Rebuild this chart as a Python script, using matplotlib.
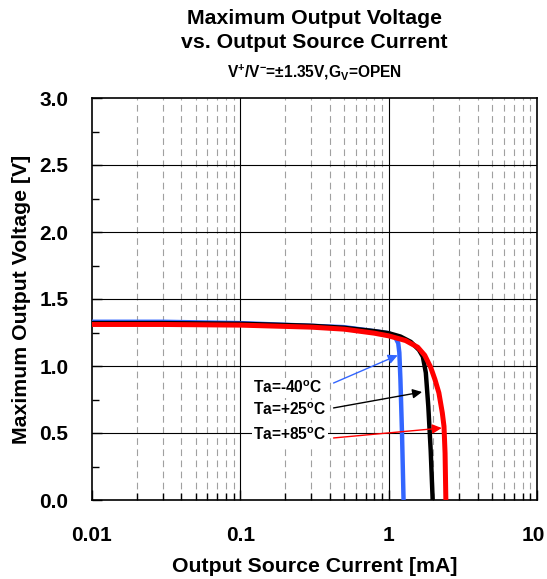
import matplotlib
matplotlib.use("Agg")
import matplotlib.pyplot as plt
import numpy as np
from matplotlib.ticker import FixedLocator, NullFormatter
from matplotlib.transforms import ScaledTranslation

plt.rcParams['font.family'] = ['Liberation Sans', 'DejaVu Sans']
plt.rcParams['mathtext.fontset'] = 'custom'
plt.rcParams['mathtext.rm'] = 'Liberation Sans:bold'
plt.rcParams['mathtext.bf'] = 'Liberation Sans:bold'
plt.rcParams['mathtext.it'] = 'Liberation Sans:bold'

# Data
i_m40 = [0.01, 0.03, 0.1, 0.3, 0.5, 0.8, 1.0, 1.1, 1.16, 1.18, 1.2, 1.23, 1.26]
v_m40 = [1.33, 1.33, 1.32, 1.30, 1.29, 1.26, 1.245, 1.22, 1.17, 1.10, 0.90, 0.50, 0.0]

i_25 = [0.01, 0.03, 0.1, 0.3, 0.5, 0.8, 1.0, 1.2, 1.41, 1.6, 1.7, 1.78, 1.85, 1.92, 1.98]
v_25 = [1.32, 1.32, 1.315, 1.30, 1.285, 1.26, 1.245, 1.22, 1.18, 1.12, 1.07, 0.95, 0.70, 0.37, 0.0]

i_85 = [0.01, 0.03, 0.1, 0.3, 0.5, 0.8, 1.0, 1.3, 1.57, 1.75, 1.92, 2.05, 2.18, 2.3, 2.36, 2.40, 2.43]
v_85 = [1.31, 1.31, 1.305, 1.29, 1.275, 1.245, 1.225, 1.19, 1.14, 1.08, 0.99, 0.90, 0.80, 0.65, 0.55, 0.35, 0.0]

labels = ['Ta=-40$^{o}$C', 'Ta=+25$^{o}$C', 'Ta=+85$^{o}$C']
colors = ['#3366ff', '#000000', '#ff0000']

x_ticks = [0.01, 0.1, 1, 10]
x_ticklabels = ['0.01', '0.1', '1', '10']
y_ticks = [0.0, 0.5, 1.0, 1.5, 2.0, 2.5, 3.0]

fig = plt.figure(figsize=(5.47, 5.79), dpi=100)
ax = fig.add_axes([92/547, 1-500/579, (537-92)/547, (500-98)/579])

ax.set_xscale('log')
ax.set_xlim(0.01, 10)
ax.set_ylim(0, 3.0)

# grid
minor_x = [m * 10.0**e for e in (-2, -1, 0) for m in range(2, 10)]
for xv in minor_x:
    ax.axvline(xv, color='#a0a0a0', lw=0.8, ls=(0, (6, 4)), zorder=1)
for xv in x_ticks[1:-1]:
    ax.axvline(xv, color='black', lw=0.8, zorder=1)
for yv in y_ticks[1:-1]:
    ax.axhline(yv, color='black', lw=0.8, zorder=1)

ax.plot(i_m40, v_m40, color=colors[0], lw=3.2, zorder=3, solid_capstyle='butt')
ax.plot(i_25, v_25, color=colors[1], lw=3.2, zorder=4, solid_capstyle='butt')
ax.plot(i_85, v_85, color=colors[2], lw=3.6, zorder=5, solid_capstyle='butt')

# annotations
text_pos = [(0.122, 0.836), (0.122, 0.672), (0.122, 0.485)]
arrow_from = [(0.425, 0.873), (0.425, 0.687), (0.425, 0.463)]
arrow_to = [(1.15, 1.08), (1.68, 0.806), (2.28, 0.537)]
for lab, c, tp, af, at in zip(labels, colors, text_pos, arrow_from, arrow_to):
    ax.text(tp[0], tp[1], lab, fontsize=11.2, fontweight='bold', va='center', ha='left',
            bbox=dict(facecolor='white', edgecolor='none', pad=1), zorder=6)
    ax.annotate('', xy=at, xytext=af,
                arrowprops=dict(arrowstyle='-|>', color=c, lw=1.0, mutation_scale=14,
                                shrinkA=0, shrinkB=0), zorder=7)

ax.set_xticks(x_ticks)
ax.set_xticklabels(x_ticklabels)
ax.xaxis.set_minor_locator(FixedLocator(minor_x))
ax.xaxis.set_minor_formatter(NullFormatter())
ax.set_yticks(y_ticks)
ax.set_yticklabels(['%.1f' % v for v in y_ticks])
ax.yaxis.set_minor_locator(FixedLocator(np.arange(0.25, 3.0, 0.5)))
ax.tick_params(axis='both', which='both', direction='in', labelsize=15)
ax.tick_params(axis='x', pad=19)
ax.tick_params(axis='y', pad=17)
ax.tick_params(which='major', length=7, width=1)
ax.tick_params(which='minor', length=5, width=1)
for lab in ax.get_xticklabels() + ax.get_yticklabels():
    lab.set_fontweight('bold')
last = ax.get_xticklabels()[-1]
last.set_transform(last.get_transform() + ScaledTranslation(-3/72, 0, fig.dpi_scale_trans))
for s in ax.spines.values():
    s.set_linewidth(1.2)

ax.set_xlabel('Output Source Current [mA]', fontsize=15.3, fontweight='bold', labelpad=8)
ax.set_ylabel('Maximum Output Voltage [V]', fontsize=15.3, fontweight='bold', labelpad=6)

cx = (92 + 537) / 2 / 547
fig.text(cx, 1 - 18/579, 'Maximum Output Voltage', ha='center', va='center', fontsize=15.3, fontweight='bold')
fig.text(cx, 1 - 43/579, 'vs. Output Source Current', ha='center', va='center', fontsize=15.3, fontweight='bold')
fig.text(cx, 1 - 72/579, r'V$^{+}$/V$^{-}$=±1.35V,G$_{V}$=OPEN', ha='center', va='center', fontsize=11.2, fontweight='bold')

fig.savefig('out.png', dpi=100)
